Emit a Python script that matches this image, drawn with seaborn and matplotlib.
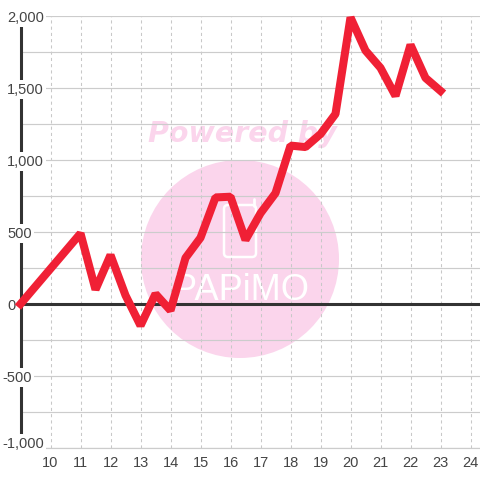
import matplotlib
matplotlib.use('Agg')
import matplotlib.pyplot as plt
from matplotlib.lines import Line2D
from matplotlib.patches import Circle, FancyBboxPatch
from matplotlib.transforms import IdentityTransform
import pandas as pd
import seaborn as sns

hours = [9, 11, 11.5, 12, 12.5, 13, 13.5, 14, 14.5, 15, 15.5, 16, 16.5, 17, 17.5, 18,
         18.5, 19, 19.5, 20, 20.5, 21, 21.5, 22, 22.5, 23]
values = [0, 490, 100, 340, 60, -150, 70, -45, 320, 460, 740, 745, 445, 630, 770, 1100,
          1090, 1180, 1320, 1990, 1760, 1640, 1445, 1800, 1570, 1480]
x_ticks = list(range(10, 25))
y_ticks = [-1000, -500, 0, 500, 1000, 1500, 2000]
y_labels = ['-1,000', '-500', '0', '500', '1,000', '1,500', '2,000']
y_minor = [-750, -250, 250, 750, 1250, 1750]

sns.set_style('white')
plt.rcParams['font.family'] = ['Liberation Sans', 'DejaVu Sans']

fig = plt.figure(figsize=(4.8, 4.8), dpi=100)
ax = fig.add_axes([20.5 / 480, 32 / 480, 459.5 / 480, 432 / 480])
ax.set_xlim(9, 9 + 459.5 / 30)
ax.set_ylim(-1000, 2000)

# watermark behind the grid, placed in pixels
pixels = IdentityTransform()
ax.add_patch(Circle((240, 221), 99, transform=pixels, facecolor='#fbd5ec', edgecolor='none',
                    zorder=0, clip_on=False))
ax.text(242 / 480, 346 / 480, 'Powered by', transform=fig.transFigure, color='#fbd5ec', fontsize=20.5,
        fontweight='bold', fontstyle='italic', family='DejaVu Sans', ha='center', va='center', zorder=0)
ax.text(241 / 480, 190 / 480, 'PAPiMO', transform=fig.transFigure, color='white', fontsize=26,
        ha='center', va='center', zorder=0)
ax.add_patch(FancyBboxPatch((224, 223), 32, 52, boxstyle='round,pad=0,rounding_size=4', transform=pixels,
                            facecolor='none', edgecolor='white', linewidth=1.8, zorder=0, clip_on=False))
ax.add_line(Line2D([254, 254], [274, 281], transform=pixels, color='white', linewidth=2, zorder=0))

df = pd.DataFrame({'hour': hours, 'value': values})
sns.lineplot(data=df, x='hour', y='value', color='#f02035', linewidth=5.8, ax=ax, zorder=5,
             clip_on=False, errorbar=None, solid_joinstyle='bevel', solid_capstyle='projecting')

ax.set_xlabel('')
ax.set_ylabel('')
ax.set_xticks(x_ticks)
ax.set_yticks(y_ticks)
ax.set_yticks(y_minor, minor=True)
ax.set_yticklabels([])
ax.tick_params(axis='both', which='both', length=0)
ax.tick_params(axis='x', labelsize=10.5, labelcolor='#444444', pad=6)

ax.grid(axis='y', which='both', color='#cccccc', linewidth=0.85, linestyle='-', zorder=1)
ax.grid(axis='x', which='major', color='#c8c8c8', linewidth=0.75, linestyle=(0, (3, 3)), zorder=1)
ax.set_axisbelow(True)

for side in ['top', 'right']:
    ax.spines[side].set_visible(False)
ax.spines['bottom'].set_color('#cccccc')
ax.spines['bottom'].set_linewidth(0.85)
ax.spines['left'].set_color('#333333')
ax.spines['left'].set_linewidth(2.2)
ax.axhline(0, color='#333333', linewidth=2.2, zorder=3)

# y labels sit on top of the axis with a white box
for v, lab in zip(y_ticks, y_labels):
    left = 2 if v < 0 else 7
    dy = 6 if v == -1000 else 0
    ax.annotate(lab, xy=(0, v), xycoords=ax.get_yaxis_transform(), xytext=(left - 20.5, dy),
                textcoords='offset pixels', ha='left', va='center_baseline', fontsize=10.5,
                color='#444444', annotation_clip=False, zorder=4,
                bbox=dict(facecolor='white', edgecolor='none', pad=1.5))

plt.savefig('out.png', dpi=100)
plt.close()
